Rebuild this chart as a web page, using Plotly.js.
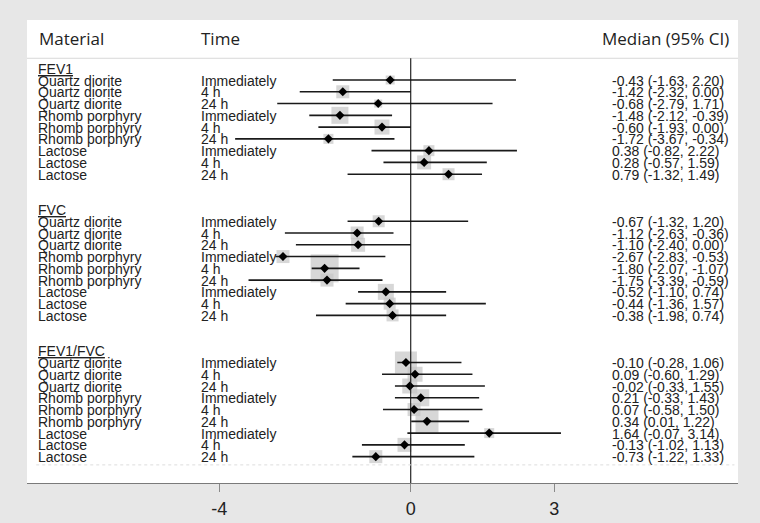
<!DOCTYPE html>
<html>
<head>
<meta charset="utf-8">
<script src="https://cdn.plot.ly/plotly-3.0.1.min.js"></script>
<style>html,body{margin:0;padding:0;background:#e7e7e7;}#chart{width:760px;height:523px;}</style>
</head>
<body>
<div id="chart"></div>
<script>
// ---- data ----
var outcomes = ["FEV1", "FVC", "FEV1/FVC"];
var materials = ["Quartz diorite", "Quartz diorite", "Quartz diorite",
                 "Rhomb porphyry", "Rhomb porphyry", "Rhomb porphyry",
                 "Lactose", "Lactose", "Lactose"];
var times = ["Immediately", "4 h", "24 h", "Immediately", "4 h", "24 h", "Immediately", "4 h", "24 h"];

var fev1Median = [-0.43, -1.42, -0.68, -1.48, -0.60, -1.72, 0.38, 0.28, 0.79];
var fev1Lower  = [-1.63, -2.32, -2.79, -2.12, -1.93, -3.67, -0.82, -0.57, -1.32];
var fev1Upper  = [2.20, 0.00, 1.71, -0.39, 0.00, -0.34, 2.22, 1.59, 1.49];
var fev1Weight = [9, 13, 8, 17, 15, 10, 11, 14, 12];

var fvcMedian = [-0.67, -1.12, -1.10, -2.67, -1.80, -1.75, -0.52, -0.44, -0.38];
var fvcLower  = [-1.32, -2.63, -2.40, -2.83, -2.07, -3.39, -1.10, -1.36, -1.98];
var fvcUpper  = [1.20, -0.36, 0.00, -0.53, -1.07, -0.59, 0.74, 1.57, 0.74];
var fvcWeight = [12, 13, 14, 13, 28, 13, 16, 12, 12];

var ratioMedian = [-0.10, 0.09, -0.02, 0.21, 0.07, 0.34, 1.64, -0.13, -0.73];
var ratioLower  = [-0.28, -0.60, -0.33, -0.33, -0.58, 0.01, -0.07, -1.02, -1.22];
var ratioUpper  = [1.06, 1.29, 1.55, 1.43, 1.50, 1.22, 3.14, 1.13, 1.33];
var ratioWeight = [22, 15, 15, 17, 13, 23, 10, 14, 13];

var tickValues = [-4, 0, 3];
var tickLabels = ["-4", "0", "3"];
var headers = ["Material", "Time", "Median (95% CI)"];

// ---- build rows ----
var groups = [
  {name: outcomes[0], med: fev1Median, lo: fev1Lower, hi: fev1Upper, w: fev1Weight},
  {name: outcomes[1], med: fvcMedian, lo: fvcLower, hi: fvcUpper, w: fvcWeight},
  {name: outcomes[2], med: ratioMedian, lo: ratioLower, hi: ratioUpper, w: ratioWeight}
];

var ys = [], xs = [], eplus = [], eminus = [], sizes = [];
var annotations = [];
var textFont = {family: "Liberation Sans, Arial, sans-serif", size: 14, color: "#222"};
var headFont = {family: "Open Sans, sans-serif", size: 17, color: "#222"};
var colMat = 0.0127, colTime = 0.2419, colCI = 0.820;

function fmt(v) { return v.toFixed(2); }

var row = 0;
groups.forEach(function (g, gi) {
  annotations.push({xref: "paper", yref: "y", x: colMat, y: row + 0.05, xanchor: "left", yanchor: "middle",
    text: "<u>" + g.name + "</u>", showarrow: false, font: textFont});
  row++;
  for (var k = 0; k < g.med.length; k++) {
    ys.push(row); xs.push(g.med[k]);
    eplus.push(g.hi[k] - g.med[k]); eminus.push(g.med[k] - g.lo[k]);
    sizes.push(g.w[k]);
    annotations.push({xref: "paper", yref: "y", x: colMat, y: row + 0.05, xanchor: "left", yanchor: "middle",
      text: materials[k], showarrow: false, font: textFont});
    annotations.push({xref: "paper", yref: "y", x: colTime, y: row + 0.05, xanchor: "left", yanchor: "middle",
      text: times[k], showarrow: false, font: textFont});
    annotations.push({xref: "paper", yref: "y", x: colCI, y: row + 0.05, xanchor: "left", yanchor: "middle",
      text: fmt(g.med[k]) + " (" + fmt(g.lo[k]) + ", " + fmt(g.hi[k]) + ")", showarrow: false, font: textFont});
    row++;
  }
  row += 2;
});

annotations.push({xref: "paper", yref: "y", x: 0.014, y: -2.53, xanchor: "left", yanchor: "middle",
  text: headers[0], showarrow: false, font: headFont});
annotations.push({xref: "paper", yref: "y", x: colTime, y: -2.53, xanchor: "left", yanchor: "middle",
  text: headers[1], showarrow: false, font: headFont});
annotations.push({xref: "paper", yref: "y", x: 0.990, y: -2.53, xanchor: "right", yanchor: "middle",
  text: headers[2], showarrow: false, font: headFont});

var squares = {
  type: "scatter", mode: "markers", x: xs, y: ys,
  marker: {symbol: "square", size: sizes, color: "#c6c6c6", line: {width: 0}},
  hoverinfo: "skip", showlegend: false
};
var points = {
  type: "scatter", mode: "markers", x: xs, y: ys,
  error_x: {type: "data", symmetric: false, array: eplus, arrayminus: eminus,
            width: 0, thickness: 1.6, color: "#1a1a1a"},
  marker: {symbol: "diamond", size: 7, color: "#000"},
  showlegend: false
};

var layout = {
  width: 760, height: 523,
  margin: {l: 27, r: 22, t: 20, b: 40},
  paper_bgcolor: "#e7e7e7",
  plot_bgcolor: "#ffffff",
  showlegend: false,
  xaxis: {
    range: [-8.02, 6.84], tickvals: tickValues, ticktext: tickLabels,
    showgrid: false, zeroline: false, showline: true, linecolor: "#7a7a7a", linewidth: 1.2,
    ticks: "outside", ticklen: 8, tickcolor: "#8a8a8a", tickwidth: 1,
    ticklabelstandoff: 1,
    tickfont: {family: "Liberation Sans, Arial, sans-serif", size: 18, color: "#222"},
    fixedrange: true
  },
  yaxis: {range: [35.24, -4.10], visible: false, showgrid: false, zeroline: false, fixedrange: true},
  shapes: [
    {type: "line", xref: "paper", yref: "y", x0: 0, x1: 1, y0: -0.85, y1: -0.85,
     line: {color: "#d8d8d8", width: 1}},
    {type: "line", xref: "x", yref: "y", x0: 0, x1: 0, y0: -0.85, y1: 35.24,
     line: {color: "#111", width: 1.1}},
    {type: "line", xref: "paper", yref: "y", x0: 0.013, x1: 0.995, y0: 33.7, y1: 33.7,
     line: {color: "#dddddd", width: 1, dash: "dot"}}
  ],
  annotations: annotations
};

Plotly.newPlot("chart", [squares, points], layout, {displayModeBar: false, staticPlot: true});
</script>
</body>
</html>
